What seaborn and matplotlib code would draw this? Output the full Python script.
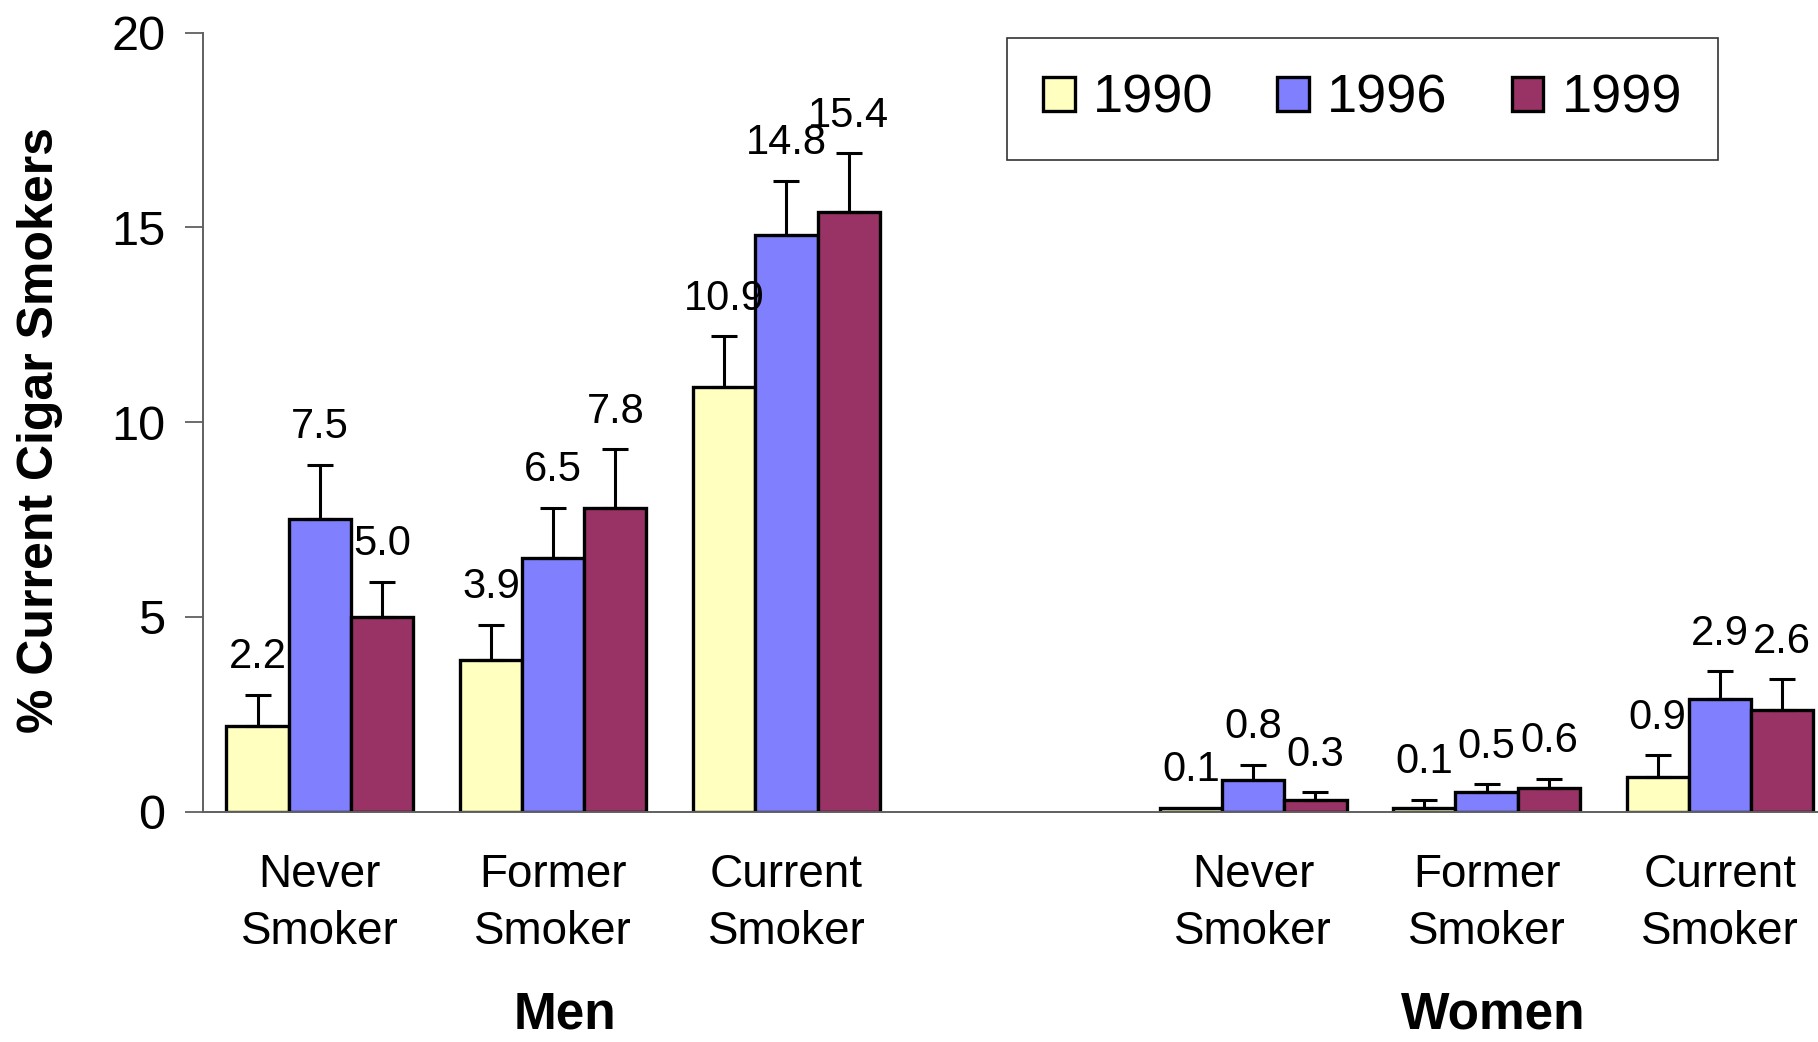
import matplotlib
matplotlib.use("Agg")
import matplotlib.pyplot as plt
import seaborn as sns
import pandas as pd

# Percent of current cigar smokers by sex, cigarette-smoking status and survey year
sexes = ["Men", "Women"]
statuses = ["Never\nSmoker", "Former\nSmoker", "Current\nSmoker"]
years = ["1990", "1996", "1999"]

men_values = {
    "1990": [2.2, 3.9, 10.9],
    "1996": [7.5, 6.5, 14.8],
    "1999": [5.0, 7.8, 15.4],
}
women_values = {
    "1990": [0.1, 0.1, 0.9],
    "1996": [0.8, 0.5, 2.9],
    "1999": [0.3, 0.6, 2.6],
}
# Upper confidence half-widths
men_errors = {
    "1990": [0.8, 0.9, 1.3],
    "1996": [1.4, 1.3, 1.4],
    "1999": [0.9, 1.5, 1.5],
}
women_errors = {
    "1990": [0.0, 0.2, 0.55],
    "1996": [0.4, 0.2, 0.7],
    "1999": [0.2, 0.25, 0.8],
}

colors = {"1990": "#FFFFC0", "1996": "#8080FF", "1999": "#993366"}

rows = []
for sex, vals, errs in [("Men", men_values, men_errors), ("Women", women_values, women_errors)]:
    for yr in years:
        for i, st in enumerate(statuses):
            rows.append({"slot": f"{sex}|{st}", "year": yr,
                         "value": vals[yr][i], "err": errs[yr][i]})
df = pd.DataFrame(rows)

# Category order with a blank spacer slot between the two sexes
order = [f"Men|{s}" for s in statuses] + ["spacer"] + [f"Women|{s}" for s in statuses]

sns.set_theme(style="white")
plt.rcParams["font.family"] = ["Liberation Sans", "DejaVu Sans"]
for key in ["text.color", "axes.labelcolor", "xtick.color", "ytick.color"]:
    plt.rcParams[key] = "black"

fig = plt.figure(figsize=(18.18, 10.42), dpi=100)
ax = fig.add_axes([0.1117, 0.2211, 1.0 - 0.1117, 0.9688 - 0.2211])

sns.barplot(data=df, x="slot", y="value", hue="year", order=order,
            hue_order=years, palette=colors, saturation=1, width=0.8,
            edgecolor="black", linewidth=2.4, errorbar=None, ax=ax)

# Error bars and value labels, positioned from the drawn bars
lookup = {(r.slot, r.year): (r.value, r.err) for r in df.itertuples()}
for yr, cont in zip(years, ax.containers):
    for patch in cont.patches:
        h = patch.get_height()
        if h != h:  # NaN bar for the spacer slot
            continue
        cx = patch.get_x() + patch.get_width() / 2
        slot = order[int(round(cx))]
        v, e = lookup[(slot, yr)]
        if e > 0:
            ax.errorbar(cx, v, yerr=[[0], [e]], fmt="none", ecolor="black",
                        elinewidth=2.2, capsize=9.5, capthick=2.2, zorder=1)
        ax.annotate(f"{v:.1f}", xy=(cx, v + e), xytext=(0, 27),
                    textcoords="offset points", ha="center", va="center",
                    fontsize=30, color="black")

ax.set_xlim(-0.5, 6.42)
ax.set_ylim(0, 20)
ax.set_yticks([0, 5, 10, 15, 20])
ax.set_yticklabels(["0", "5", "10", "15", "20"], fontsize=35)
tick_pos = [0, 1, 2, 4, 5, 6]
ax.set_xticks(tick_pos)
ax.set_xticklabels(statuses + statuses, fontsize=33, linespacing=1.36)
ax.tick_params(axis="x", length=0, pad=30)
ax.tick_params(axis="y", direction="out", length=13, width=1.3,
               color="#606060", left=True, pad=14)
ax.set_xlabel("")
ax.set_ylabel("% Current Cigar Smokers", fontsize=36, fontweight="bold")
ax.yaxis.set_label_coords(-0.101, 0.49)
ax.yaxis.label.set_verticalalignment("center")

for side in ["top", "right"]:
    ax.spines[side].set_visible(False)
for side in ["left", "bottom"]:
    ax.spines[side].set_color("#606060")
    ax.spines[side].set_linewidth(1.4)

# Sex group titles under the category labels
trans = ax.get_xaxis_transform()
ax.text(1.05, -0.279, "Men", transform=trans, ha="center", va="baseline",
        fontsize=37, fontweight="bold")
ax.text(5.03, -0.279, "Women", transform=trans, ha="center", va="baseline",
        fontsize=37, fontweight="bold")

leg = ax.legend(loc="center", bbox_to_anchor=(0.7495, 0.905),
                bbox_transform=fig.transFigure, ncol=3, fontsize=39,
                frameon=True, fancybox=False, edgecolor="black",
                handlelength=0.58, handleheight=0.6, handletextpad=0.34,
                columnspacing=1.18, borderpad=0.66, borderaxespad=0)
leg.get_frame().set_linewidth(1.2)
for handle in leg.legend_handles:
    handle.set_linewidth(2.4)
    handle.set_edgecolor("black")

fig.savefig("out.png", dpi=100)
